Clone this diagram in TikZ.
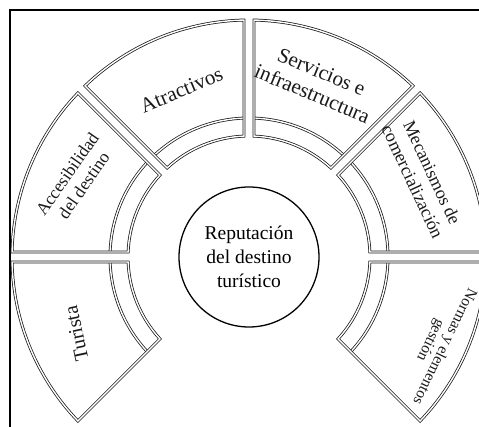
\documentclass[tikz,border=0pt]{standalone}
\usepackage{fontspec}
\setmainfont{Liberation Serif}
\tikzset{
  ring/.style={double, line width=0.75pt, double distance=1.4pt, black!90},
  sectorlabel/.style={align=center, text=black!90, inner sep=0pt},
}
\newcommand{\ringgap}{5}
\begin{document}
\begin{tikzpicture}[x=1pt, y=1pt]
  \useasboundingbox (-249,-170) rectangle (230,257);
  %
  % Frame
  \draw[line width=2pt] (-238.5,-170) -- (-238.5,246.5) -- (230,246.5);
  %
  % Ring sectors (outer block, thin inner band)
  \foreach \s in {0,...,5} {
    \pgfmathsetmacro{\oS}{-45+45*\s+asin(\ringgap/237)}
    \pgfmathsetmacro{\oE}{45*\s-asin(\ringgap/237)}
    \pgfmathsetmacro{\mS}{-45+45*\s+asin(\ringgap/139)}
    \pgfmathsetmacro{\mE}{45*\s-asin(\ringgap/139)}
    \pgfmathsetmacro{\iS}{-45+45*\s+asin(\ringgap/121)}
    \pgfmathsetmacro{\iE}{45*\s-asin(\ringgap/121)}
    \draw[ring] (\mS:139pt) arc[start angle=\mS, end angle=\mE, radius=139pt];
    \draw[ring] (\oS:237pt) arc[start angle=\oS, end angle=\oE, radius=237pt]
      -- (\iE:121pt) arc[start angle=\iE, end angle=\iS, radius=121pt] -- cycle;
  }
  %
  % Centre
  \node[circle, draw, line width=1.3pt, minimum size=140pt, align=center,
    font=\fontsize{19.5}{24}\selectfont] (reputacion) at (0,0)
    {Reputación\\del destino\\turístico};
  %
  % Labels
  \node[sectorlabel, rotate=102, font=\fontsize{20}{24}\selectfont]
    (turista) at (204:189pt) {Turista};
  \node[sectorlabel, rotate=55, font=\fontsize{17.5}{20}\selectfont]
    (accesibilidad) at (156:190pt) {Accesibilidad\\del destino};
  \node[sectorlabel, rotate=23, font=\fontsize{21}{24}\selectfont]
    (atractivos) at (112:180pt) {Atractivos};
  \node[sectorlabel, rotate=-22.5, font=\fontsize{21}{24}\selectfont]
    (servicios) at (68.7:187pt) {Servicios e\\infraestructura};
  \node[sectorlabel, rotate=-65, font=\fontsize{18}{21.5}\selectfont]
    (mecanismos) at (24.7:191pt) {Mecanismos de\\comercialización};
  \node[sectorlabel, rotate=-116, font=\fontsize{15.5}{15.5}\selectfont]
    (normas) at (-24.6:207pt) {Normas y elementos\\gestión};
\end{tikzpicture}
\end{document}
